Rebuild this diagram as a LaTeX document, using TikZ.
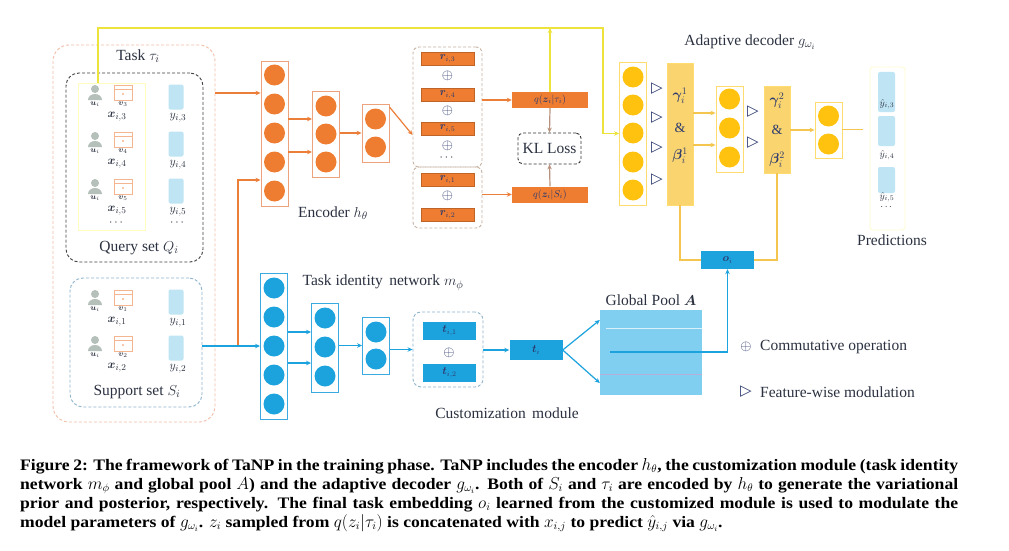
\documentclass[tikz,border=0pt]{standalone}
\usepackage{amsmath,bm}
\usepackage{fontspec}
\setmainfont{Liberation Serif}
\newfontfamily\djv{DejaVu Sans}
\newfontfamily\capfont{Liberation Serif}[FakeStretch=1.1]
\usetikzlibrary{arrows.meta,calc,shapes.geometric}
\definecolor{orC}{HTML}{EE7D31}
\definecolor{orB}{HTML}{EDA27E}
\definecolor{orA}{HTML}{EB7F3A}
\definecolor{blC}{HTML}{1CA3DD}
\definecolor{blB}{HTML}{3AAAE0}
\definecolor{gdC}{HTML}{FFC20E}
\definecolor{gdB}{HTML}{FFDC70}
\definecolor{gdF}{HTML}{F9D46F}
\definecolor{ylw}{HTML}{EDE33A}
\definecolor{gln}{HTML}{F4C650}
\definecolor{txt}{HTML}{2B3140}
\definecolor{navy}{HTML}{2C3A6E}
\definecolor{lbar}{HTML}{BFE4F4}
\definecolor{pool}{HTML}{80CEF0}
\definecolor{tsk}{HTML}{F2BFA8}
\definecolor{supc}{HTML}{8FB4CC}
\definecolor{rbx}{HTML}{C9B3A3}
\definecolor{usr}{HTML}{B4C0B9}
\definecolor{itm}{HTML}{F3B690}
\definecolor{kar}{HTML}{B8927E}
\begin{document}
\begin{tikzpicture}[x=1pt,y=-1pt,
  >={Stealth[length=5pt,width=4.5pt]},
  lbl/.style={font=\fontsize{15.5}{18}\selectfont, text=txt, inner sep=0},
  small/.style={font=\fontsize{13}{14}\selectfont, text=txt, inner sep=0},
  tiny/.style={font=\fontsize{8.5}{9}\selectfont, text=txt, inner sep=0},
  glbl/.style={font=\fontsize{14}{15}\selectfont, text=navy, inner sep=0},
  captext/.style={font=\capfont\fontsize{16}{19}\selectfont\bfseries, text=black, inner sep=0},
  lay/.style={draw, line width=0.9pt, minimum width=27pt, inner sep=0, fill=white},
  olay/.style={lay, draw=orB},
  blay/.style={lay, draw=blB},
  glay/.style={lay, draw=gdB},
  ocirc/.style={circle, fill=orC, minimum size=21pt, inner sep=0},
  bcirc/.style={circle, fill=blC, minimum size=21pt, inner sep=0},
  gcirc/.style={circle, fill=gdC, minimum size=21pt, inner sep=0},
  oarr/.style={draw=orA, line width=1.2pt, ->},
  barr/.style={draw=blC, line width=1.2pt, ->},
  garr/.style={draw=gln, line width=1.2pt, ->},
  gline/.style={draw=gln, line width=1.4pt},
  yarr/.style={draw=ylw, line width=1.4pt, ->},
  karr/.style={draw=kar, line width=1.2pt, ->},
  dsh/.style={dash pattern=on 3pt off 2pt},
  rbar/.style={fill=orC, draw=orC!80!black, line width=0.3pt, minimum width=53pt, minimum height=13pt, inner sep=0, font=\fontsize{10.5}{10}\selectfont, text=navy},
  tbar/.style={fill=blC, minimum width=53pt, minimum height=18pt, inner sep=0, font=\fontsize{10.5}{10}\selectfont, text=navy},
  qbox/.style={fill=orC, minimum width=76pt, minimum height=16pt, inner sep=0, font=\fontsize{10}{10}\selectfont, text=navy},
  ybar/.style={fill=lbar, rounded corners=2pt, minimum width=15pt, inner sep=0},
  trg/.style={font=\djv\fontsize{15}{15}\selectfont, text=navy, inner sep=0},
  opl/.style={font=\fontsize{14}{14}\selectfont, text=navy, inner sep=0},
  gbar/.style={fill=gdF, draw=gdB, minimum width=26pt, inner sep=0}
]
\useasboundingbox[fill=white] (0,0) rectangle (1009,551);

% ---------------- Task box (left) ----------------
\node[draw=tsk, dsh, line width=0.9pt, rounded corners=16pt, minimum width=162pt, minimum height=377pt, inner sep=0] (task) at (134,233.5) {};
\node[lbl] (tasklbl) at (138,56) {Task $\tau_i$};
\node[draw=black!75, dsh, line width=0.9pt, rounded corners=13pt, minimum width=137pt, minimum height=189pt, inner sep=0] (Q) at (134.5,167.5) {};
\node[draw=yellow!25, line width=0.8pt, minimum width=67pt, minimum height=147pt, inner sep=0] (XR) at (111.5,156.5) {};
\node[lbl] (qlbl) at (139,248) {Query set $Q_i$};
\node[draw=supc, dsh, line width=0.9pt, rounded corners=13pt, minimum width=132pt, minimum height=129pt, inner sep=0] (S) at (136,342.5) {};
\node[lbl] (slbl) at (137,392) {Support set $S_i$};

% icons and labels
\foreach \yy/\k/\vv in {92/3/3,139/4/4,186/5/5,297/1/1,343/2/2}{
  \fill[usr] (95,\yy-3) circle (4pt);
  \fill[usr] (88,\yy+8) arc (180:0:7pt and 6pt) -- cycle;
  \draw[itm, line width=0.8pt] (114,\yy-7) rectangle (132,\yy+8);
  \draw[itm, line width=0.6pt] (114,\yy-3) -- (132,\yy-3);
  \fill[itm] (123,\yy+2) circle (1.2pt);
  \node[tiny] (u\k) at (95,\yy+12) {$\boldsymbol{u}_i$};
  \node[tiny] (v\k) at (123,\yy+12) {$\boldsymbol{v}_{\vv}$};
  \node[small] (x\k) at (117,\yy+25) {$\boldsymbol{x}_{i,\vv}$};
  \node[ybar, minimum height=25pt] (yb\k) at (176,\yy+5) {};
  \node[small] (y\k) at (178,\yy+26) {$y_{i,\vv}$};
}
\node[small] (xd) at (117,223) {$\cdots$};
\node[small] (yd) at (178,223) {$\cdots$};

% ---------------- Encoder ----------------
\node[olay, minimum height=145pt] (E1) at (274.5,133.5) {};
\node[olay, minimum height=86pt] (E2) at (326,134) {};
\node[olay, minimum height=58pt] (E3) at (375.5,133) {};
\foreach \y [count=\k] in {75,104,133,162,191} \node[ocirc] (e1c\k) at (274.5,\y) {};
\foreach \y [count=\k] in {106,134,162} \node[ocirc] (e2c\k) at (326,\y) {};
\foreach \y [count=\k] in {119,147} \node[ocirc] (e3c\k) at (375.5,\y) {};
\node[lbl] (enclbl) at (333,213) {Encoder $h_\theta$};

% inputs to encoder
\draw[oarr] ([yshift=40.5]E1.west -| task.east) -- ([yshift=40.5]E1.west);
\coordinate (sj) at (238,346);
\draw[oarr] (sj) |- ([yshift=-46.5]E1.west);

\draw[oarr] ([yshift=15]E2.west -| E1.east) -- ([yshift=15]E2.west);
\draw[oarr] ([yshift=-18]E2.west -| E1.east) -- ([yshift=-18]E2.west);
\draw[oarr] (E2.east |- E3.west) -- (E3.west);

% r boxes
\node[draw=rbx, dsh, line width=0.9pt, rounded corners=6pt, minimum width=69pt, minimum height=120pt, inner sep=0] (RB1) at (447.5,107) {};
\node[draw=rbx, dsh, line width=0.9pt, rounded corners=6pt, minimum width=69pt, minimum height=61pt, inner sep=0] (RB2) at (447.5,197.5) {};
\node[rbar] (r3) at (447.5,59) {$\boldsymbol{r}_{i,3}$};
\node[opl] (p1) at (447.5,76) {$\oplus$};
\node[rbar] (r4) at (447.5,94.5) {$\boldsymbol{r}_{i,4}$};
\node[opl] (p2) at (447.5,111) {$\oplus$};
\node[rbar] (r5) at (447.5,129) {$\boldsymbol{r}_{i,5}$};
\node[opl] (p3) at (447.5,146) {$\oplus$};
\node[small] (rd) at (447.5,158) {$\cdots$};
\node[rbar] (r1) at (447.5,179.5) {$\boldsymbol{r}_{i,1}$};
\node[opl] (p4) at (447.5,196) {$\oplus$};
\node[rbar] (r2) at (447.5,215) {$\boldsymbol{r}_{i,2}$};
\draw[oarr] (E3.east |- RB1.west) -- ([yshift=-28]RB1.west);

% q boxes and KL
\node[qbox] (qt) at (550,100) {$q(\boldsymbol{z}_i|\tau_i)$};
\node[qbox] (qs) at (550,194.5) {$q(\boldsymbol{z}_i|S_i)$};
\node[draw=black!80, dsh, line width=0.9pt, rounded corners=5pt, minimum width=63pt, minimum height=31pt, lbl] (KL) at (549.5,148.5) {KL Loss};
\draw[oarr] (RB1.east |- qt.west) -- (qt.west);
\draw[oarr] (RB2.east |- qs.west) -- (qs.west);
\draw[karr] (qt.south) -- (KL.north);
\draw[karr] (qs.north) -- (KL.south);

% ---------------- Decoder ----------------
\node[lbl] (declbl) at (750,42) {Adaptive decoder $g_{\omega_i}$};
\node[glay, minimum height=143pt] (D1) at (633,133.5) {};
\node[gbar, minimum height=142pt] (GB1) at (680,134) {};
\node[glay, minimum height=86pt] (D2) at (729.5,129) {};
\node[gbar, minimum height=87pt] (GB2) at (777,129.5) {};
\node[glay, minimum height=56pt] (D3) at (828.5,130) {};
\foreach \y [count=\k] in {77,105,133,162,190} \node[gcirc] (d1c\k) at (633,\y) {};
\foreach \y [count=\k] in {99,128,157} \node[gcirc] (d2c\k) at (729.5,\y) {};
\foreach \y [count=\k] in {116,144} \node[gcirc] (d3c\k) at (828.5,\y) {};
\foreach \y [count=\k] in {89,118,148,180} \node[trg] (ta\k) at (657,\y) {▷};
\foreach \y [count=\k] in {112,143} \node[trg] (tb\k) at (753,\y) {▷};
\node[glbl] (g1) at (680,96) {$\boldsymbol{\gamma}_i^1$};
\node[glbl] (a1) at (680,128) {\&};
\node[glbl] (b1) at (680,156) {$\boldsymbol{\beta}_i^1$};
\node[glbl] (g2) at (777,101) {$\boldsymbol{\gamma}_i^2$};
\node[glbl] (a2) at (777,130) {\&};
\node[glbl] (b2) at (777,160) {$\boldsymbol{\beta}_i^2$};
\draw[garr] ([yshift=16]D2.west -| GB1.east) -- ([yshift=16]D2.west);
\draw[garr] ([yshift=-16]D2.west -| GB1.east) -- ([yshift=-16]D2.west);
\draw[garr] (GB2.east |- D3.west) -- (D3.west);

% predictions
\node[draw=yellow!20, line width=0.8pt, rounded corners=3pt, minimum width=35pt, minimum height=163pt, inner sep=0] (PR) at (887.5,148.5) {};
\node[ybar, minimum width=17pt, minimum height=40pt] (pb1) at (886.5,92) {};
\node[ybar, minimum width=17pt, minimum height=30pt] (pb2) at (886.5,131) {};
\node[ybar, minimum width=17pt, minimum height=26pt] (pb3) at (886.5,180) {};
\node[font=\fontsize{10}{10}\selectfont, text=txt, inner sep=0] (h3) at (887,104) {$\hat{y}_{i,3}$};
\node[font=\fontsize{10}{10}\selectfont, text=txt, inner sep=0] (h4) at (887,155) {$\hat{y}_{i,4}$};
\node[font=\fontsize{10}{10}\selectfont, text=txt, inner sep=0] (h5) at (887,197) {$\hat{y}_{i,5}$};
\node[font=\fontsize{10}{10}\selectfont, text=txt, inner sep=0] (hd) at (887,207) {$\cdots$};
\node[lbl] (prlbl) at (892,240) {Predictions};
\draw[gline] (D3.east |- GB2.east) -- ([xshift=-7]PR.west |- GB2.east);

% yellow top line
\coordinate (ytop) at (603,28);
\draw[yarr] ([xshift=-13.5]XR.north) |- (ytop) |- (D1.west);
\draw[yarr] (qt.north) -- (qt.north |- ytop);

% ---------------- Task identity network ----------------
\node[lbl] (tinlbl) at (383,283) {Task identity\, network $m_\phi$};
\node[blay, minimum height=146pt] (T1) at (274,346) {};
\node[blay, minimum height=89pt] (T2) at (325,347.5) {};
\node[blay, minimum height=57pt] (T3) at (376,345.5) {};
\foreach \y [count=\k] in {288,317,346,375,404} \node[bcirc] (t1c\k) at (274,\y) {};
\foreach \y [count=\k] in {318,347,376} \node[bcirc] (t2c\k) at (325,\y) {};
\foreach \y [count=\k] in {332,359} \node[bcirc] (t3c\k) at (376,\y) {};
\draw[barr] (S.east |- T1.west) -- (T1.west);
\draw[barr] ([yshift=15.5]T2.west -| T1.east) -- ([yshift=15.5]T2.west);
\draw[barr] ([yshift=-15.5]T2.west -| T1.east) -- ([yshift=-15.5]T2.west);
\draw[barr] (T2.east |- T3.west) -- (T3.west);

\node[draw=supc, dsh, line width=0.9pt, rounded corners=8pt, minimum width=70pt, minimum height=75pt, inner sep=0] (TB) at (448,349.5) {};
\node[tbar] (ti1) at (449.5,330.5) {$\boldsymbol{t}_{i,1}$};
\node[opl] (p5) at (449,353) {$\oplus$};
\node[tbar] (ti2) at (449.5,372.5) {$\boldsymbol{t}_{i,2}$};
\draw[barr] (T3.east |- TB.west) -- (TB.west);
\node[tbar, minimum height=20pt] (ti) at (536,350) {$\boldsymbol{t}_i$};
\draw[barr] (TB.east |- ti.west) -- (ti.west);
\node[lbl] (custlbl) at (507,413) {Customization\, module};

% global pool
\node[fill=pool, minimum width=102pt, minimum height=85pt, inner sep=0] (GP) at (651,352.5) {};
\node[lbl] (gplbl) at (651,300) {Global Pool $\boldsymbol{A}$};
\draw[white!70!pool, line width=1pt] ([yshift=-19]GP.north west) ++(6,0) -- ([yshift=-19]GP.north east);
\draw[white!60!magenta!40!pool, line width=1pt] ([yshift=21]GP.south west) -- ([yshift=21]GP.south east);
\draw[barr] (ti.east) -- ([yshift=32.5]GP.west);
\draw[barr] (ti.east) -- ([yshift=-30.5]GP.west);
\coordinate (gpl) at (610,352);

% o_i
\node[tbar, minimum height=18pt] (oi) at (727.5,260) {$\boldsymbol{o}_i$};
\draw[barr] (gpl) -| (oi.south);
\draw[gline] (GB1.south) |- (oi.west);
\draw[gline] (oi.east) -| (GB2.south);

% legend
\node[opl] (lg1) at (746,347) {$\oplus$};
\node[lbl, anchor=west] (lg1t) at (760,347) {Commutative operation};
\node[trg] (lg2) at (746,392) {▷};
\node[lbl, anchor=west] (lg2t) at (760,392) {Feature-wise modulation};

% caption
\node[captext, anchor=base west] (cap1) at (20,470) {\makebox[938pt][s]{Figure 2: The framework of TaNP in the training phase. TaNP includes the encoder $h_\theta$, the customization module (task identity}};
\node[captext, anchor=base west] (cap2) at (20,489) {\makebox[938pt][s]{network $m_\phi$ and global pool $A$) and the adaptive decoder $g_{\omega_i}$. Both of $S_i$ and $\tau_i$ are encoded by $h_\theta$ to generate the variational}};
\node[captext, anchor=base west] (cap3) at (20,508) {\makebox[938pt][s]{prior and posterior, respectively. The final task embedding $o_i$ learned from the customized module is used to modulate the}};
\node[captext, anchor=base west] (cap4) at (20,527) {model parameters of $g_{\omega_i}$. $z_i$ sampled from $q(z_i|\tau_i)$ is concatenated with $x_{i,j}$ to predict $\hat{y}_{i,j}$ via $g_{\omega_i}$.};
\end{tikzpicture}
\end{document}
